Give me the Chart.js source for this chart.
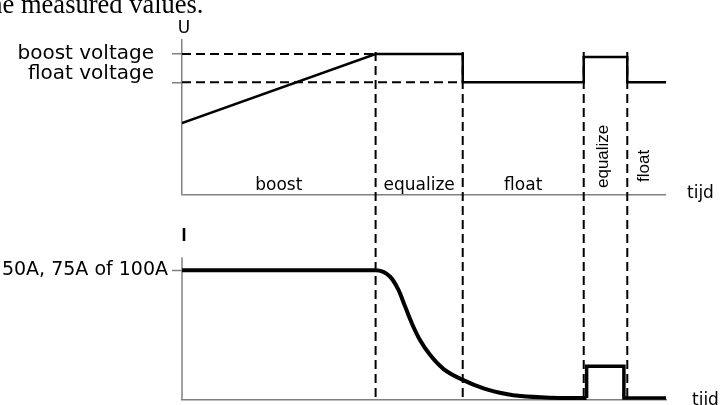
<!DOCTYPE html>
<html>
<head>
<meta charset="utf-8">
<script src="https://cdn.jsdelivr.net/npm/chart.js@4"></script>
<style>
  body { margin: 0; background: #fff; }
  #wrap { position: relative; width: 723px; height: 405px; overflow: hidden; }
  #wrap canvas { position: absolute; left: 0; top: 0; }
  #caption { position: absolute; left: -18px; top: -9px; font: 26.5px/26px "Liberation Serif", serif; color: #000; white-space: nowrap; }
</style>
</head>
<body>
<div id="wrap">
  <canvas id="myChart" width="723" height="405"></canvas>
  <div id="caption">the measured values.</div>
</div>
<script>
// time runs 0..100 in arbitrary units, phases split at these moments
const phaseEdges = [40, 58, 83, 92]
const phaseNames = ['boost', 'equalize', 'float', 'equalize', 'float']

// voltage (arbitrary units)
const boostLevel = 100
const floatLevel = 80
const uTime = [0, 40, 58, 58, 83, 83, 92, 92, 100]
const uValues = [51, 100, 100, 80, 80, 98, 98, 80, 80]

// current, 100 = the set charge current
const chargeCurrent = 100
const iTime = [0, 40, 43, 44.7, 46.1, 47.5, 49.2, 51.2, 54, 58, 62.3, 67, 70, 76, 83.6]
const iValues = [100, 100, 95, 85, 72, 59, 46, 35, 24, 15.5, 9, 4.6, 3, 1.8, 1.5]
const pulseTime = [83.6, 83.6, 91.3, 91.3, 100]
const pulseValues = [1.5, 26, 26, 1.5, 1.5]

const axisGrey = '#808080'
const toPoints = (xs, ys) => xs.map((t, i) => ({ x: t, y: ys[i] }))

const chartMarks = {
  id: 'chartMarks',
  beforeDatasetsDraw(chart) {
    const { ctx, chartArea, scales: { x, yU, yI } } = chart
    ctx.save()
    // current axis, starts below the gap between the panels
    ctx.strokeStyle = axisGrey
    ctx.lineWidth = 1.5
    ctx.beginPath()
    ctx.moveTo(x.getPixelForValue(0), yI.getPixelForValue(110))
    ctx.lineTo(x.getPixelForValue(0), chartArea.bottom)
    ctx.stroke()
    // dashed phase borders through both panels
    ctx.strokeStyle = '#000'
    ctx.lineWidth = 2
    ctx.setLineDash([9, 5])
    phaseEdges.forEach(t => {
      const px = x.getPixelForValue(t)
      ctx.beginPath()
      ctx.moveTo(px, yU.getPixelForValue(boostLevel + 1.5))
      ctx.lineTo(px, chartArea.bottom)
      ctx.stroke()
    })
    ctx.restore()
  },
  afterDraw(chart) {
    const { ctx, chartArea, scales: { x, yU, yI } } = chart
    const starts = [0, ...phaseEdges]
    const ends = [...phaseEdges, 100]
    const base = yU.getPixelForValue(0)
    ctx.save()
    ctx.fillStyle = '#000'
    phaseNames.forEach((name, i) => {
      const mid = x.getPixelForValue((starts[i] + ends[i]) / 2)
      if (i < 3) {
        ctx.font = '17px "DejaVu Sans"'
        ctx.textAlign = 'center'
        ctx.textBaseline = 'alphabetic'
        ctx.fillText(name, mid, base - 5)
      } else {
        ctx.save()
        ctx.translate(mid - 2, base - (i === 3 ? 7 : 13))
        ctx.rotate(-Math.PI / 2)
        ctx.font = '17px "Liberation Sans"'
        ctx.textAlign = 'left'
        ctx.textBaseline = 'middle'
        ctx.fillText(name, 0, 0)
        ctx.restore()
      }
    })
    ctx.textAlign = 'center'
    ctx.textBaseline = 'alphabetic'
    ctx.font = '17px "DejaVu Sans"'
    ctx.fillText('U', chartArea.left + 2, chartArea.top - 7)
    ctx.font = 'bold 18px "Liberation Sans"'
    ctx.fillText('I', chartArea.left + 2, yI.getPixelForValue(110) - 16)
    ctx.textAlign = 'left'
    ctx.font = '17px "DejaVu Sans"'
    ctx.fillText('tijd', chartArea.right + 21, base + 3)
    ctx.fillText('tijd', chartArea.right + 26, chartArea.bottom + 5)
    ctx.restore()
  }
}

const uLabels = { [boostLevel]: 'boost voltage', [floatLevel]: ['float voltage', ''] }

// fixed axis width, and no room kept for labels that hang over the ends
const fixAxis = s => {
  s.width = 182
  s.paddingTop = 0
  s.paddingBottom = 0
}

new Chart(document.getElementById('myChart'), {
  type: 'line',
  data: {
    datasets: [
      {
        label: 'U',
        data: toPoints(uTime, uValues),
        yAxisID: 'yU',
        borderColor: '#000',
        borderWidth: 2.5,
        pointRadius: 0
      },
      {
        label: 'I',
        data: toPoints(iTime, iValues),
        yAxisID: 'yI',
        borderColor: '#000',
        borderWidth: 4,
        pointRadius: 0,
        cubicInterpolationMode: 'monotone'
      },
      {
        label: 'I equalize',
        data: toPoints(pulseTime, pulseValues),
        yAxisID: 'yI',
        borderColor: '#000',
        borderWidth: 3.5,
        pointRadius: 0
      },
      {
        label: 'boost voltage',
        data: toPoints([0, phaseEdges[0]], [boostLevel, boostLevel]),
        yAxisID: 'yU',
        borderColor: '#000',
        borderWidth: 2,
        borderDash: [9, 5],
        pointRadius: 0
      },
      {
        label: 'float voltage',
        data: toPoints([0, phaseEdges[1]], [floatLevel, floatLevel]),
        yAxisID: 'yU',
        borderColor: '#000',
        borderWidth: 2,
        borderDash: [9, 5],
        pointRadius: 0
      }
    ]
  },
  options: {
    responsive: false,
    animation: false,
    devicePixelRatio: 1,
    layout: { padding: { top: 40, right: 57, bottom: 0, left: 0 } },
    plugins: { legend: { display: false }, tooltip: { enabled: false } },
    scales: {
      x: {
        type: 'linear',
        min: 0,
        max: 100,
        ticks: { display: false },
        grid: { drawOnChartArea: false, drawTicks: false },
        border: { color: axisGrey, width: 1.5 },
        afterFit: s => { s.height = 5; s.paddingLeft = 0; s.paddingRight = 0 }
      },
      yI: {
        type: 'linear',
        position: 'left',
        stack: 'panels',
        stackWeight: 205,
        min: 0,
        max: 158,
        afterBuildTicks: s => { s.ticks = [{ value: chargeCurrent }] },
        afterFit: fixAxis,
        ticks: {
          autoSkip: false,
          padding: 4,
          color: '#000',
          font: { family: 'DejaVu Sans', size: 19 },
          callback: () => '50A, 75A of 100A'
        },
        grid: { drawOnChartArea: false, tickLength: 10, tickColor: axisGrey, tickWidth: 1.5 },
        border: { display: false }
      },
      yU: {
        type: 'linear',
        position: 'left',
        stack: 'panels',
        stackWeight: 155,
        min: 0,
        max: 110,
        afterBuildTicks: s => { s.ticks = [{ value: 0 }, { value: floatLevel }, { value: boostLevel }] },
        afterFit: fixAxis,
        ticks: {
          autoSkip: false,
          padding: 18,
          color: '#000',
          font: { family: 'DejaVu Sans', size: 20, lineHeight: 0.8 },
          callback: v => uLabels[v] || ''
        },
        grid: {
          tickLength: 10,
          lineWidth: 1.5,
          tickWidth: 1.5,
          color: c => (c.tick && c.tick.value === 0 ? axisGrey : 'transparent'),
          tickColor: c => (c.tick && c.tick.value === 0 ? 'transparent' : axisGrey)
        },
        border: { color: axisGrey, width: 1.5 }
      }
    }
  },
  plugins: [chartMarks]
})
</script>
</body>
</html>
